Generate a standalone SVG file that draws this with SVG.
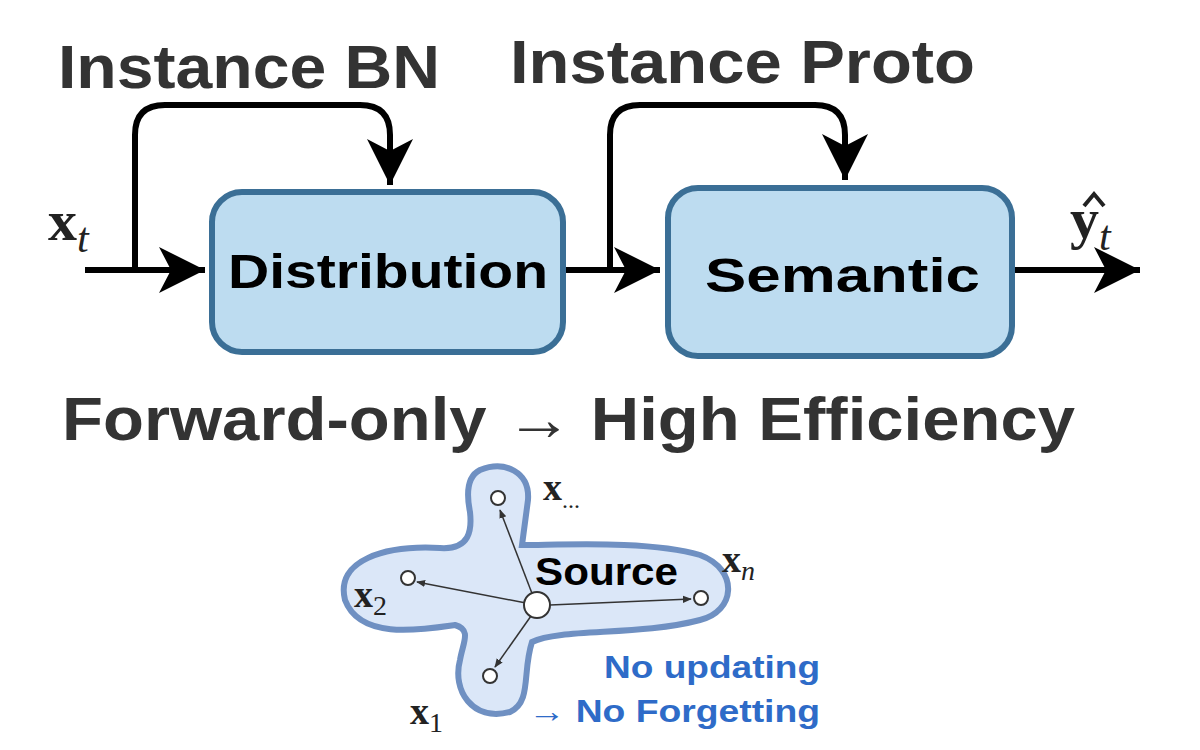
<svg xmlns="http://www.w3.org/2000/svg" width="1200" height="750" viewBox="0 0 1200 750">
<style>
.box{fill:#bddcf0;stroke:#3b6f96;stroke-width:6}
.lbl{font-family:"Liberation Sans",Arial,sans-serif;font-weight:bold;fill:#000}
.big{font-family:"Liberation Sans",Arial,sans-serif;fill:#333;font-size:62px;font-weight:bold}
.ln{fill:none;stroke:#000;stroke-width:6}
.m{font-family:"Liberation Serif","DejaVu Serif",serif;fill:#222}
.bl{font-family:"Liberation Sans",Arial,sans-serif;font-weight:bold;fill:#2e6bc8;font-size:32px}
.th{fill:none;stroke:#333;stroke-width:1.5}
</style>
<defs>
<marker id="ah" markerWidth="10" markerHeight="10" refX="8" refY="5" orient="auto" markerUnits="userSpaceOnUse" viewBox="0 0 10 10" overflow="visible">
<path d="M-38,-18 L8,5 L-38,28 L-26,5 Z" fill="#000"/>
</marker>
<marker id="sa" viewBox="0 0 10 10" refX="9" refY="5" markerWidth="9" markerHeight="9" orient="auto" markerUnits="userSpaceOnUse"><path d="M0,1 L10,5 L0,9 Z" fill="#333"/></marker>
</defs>
<text class="big" x="58" y="88" textLength="382" lengthAdjust="spacingAndGlyphs">Instance BN</text>
<text class="big" x="510" y="83" textLength="465" lengthAdjust="spacingAndGlyphs">Instance Proto</text>
<g id="connectors">
<path class="ln" d="M85,270 H205" marker-end="url(#ah)"/>
<path class="ln" d="M135,270 V135 Q135,105 165,105 H360 Q390,105 390,135 V185" marker-end="url(#ah)"/>
<path class="ln" d="M563,270 H660" marker-end="url(#ah)"/>
<path class="ln" d="M610,270 V135 Q610,105 640,105 H815 Q845,105 845,135 V180" marker-end="url(#ah)"/>
<path class="ln" d="M1012,270 H1140" marker-end="url(#ah)"/>
</g>
<g id="distribution"><rect class="box" x="212" y="192" width="351" height="160" rx="30"/><text class="lbl" x="228" y="288" font-size="48" textLength="320" lengthAdjust="spacingAndGlyphs">Distribution</text></g>
<g id="semantic"><rect class="box" x="668" y="188" width="344" height="168" rx="30"/><text class="lbl" x="705" y="292" font-size="48" textLength="275" lengthAdjust="spacingAndGlyphs">Semantic</text></g>
<text class="m" x="48" y="240" font-size="58" font-weight="bold">x<tspan font-size="42" font-style="italic" font-weight="normal" dy="12">t</tspan></text>
<text class="m" x="1070" y="238" font-size="58" font-weight="bold">y<tspan font-size="42" font-style="italic" font-weight="normal" dy="12">t</tspan></text>
<path d="M1084,206 L1094,194 L1104,206" fill="none" stroke="#222" stroke-width="4"/>
<text class="big" x="62" y="440" textLength="1013" lengthAdjust="spacingAndGlyphs">Forward-only → High Efficiency</text>
<g id="source">
<path d="M480,470 C505,460 530,472 528,500 L522,545 C560,545 650,540 700,555 C740,570 735,612 700,620 C640,636 560,628 532,642 C522,672 532,702 510,712 C472,722 452,690 460,660 C463,642 472,630 455,625 C420,630 360,640 345,600 C335,560 385,545 440,548 C470,550 472,530 470,512 C466,492 468,476 480,470 Z" fill="#dbe7f8" stroke="#6f90c2" stroke-width="6"/>
<line class="th" x1="533" y1="596" x2="500" y2="510" marker-end="url(#sa)"/>
<line class="th" x1="526" y1="603" x2="417" y2="582" marker-end="url(#sa)"/>
<line class="th" x1="550" y1="605" x2="691" y2="599" marker-end="url(#sa)"/>
<line class="th" x1="531" y1="616" x2="495" y2="667" marker-end="url(#sa)"/>
<circle cx="537" cy="605" r="13" fill="#fff" stroke="#333" stroke-width="2"/>
<circle cx="498" cy="498" r="7" fill="#fff" stroke="#333" stroke-width="2"/>
<circle cx="408" cy="578" r="7" fill="#fff" stroke="#333" stroke-width="2"/>
<circle cx="701" cy="598" r="7" fill="#fff" stroke="#333" stroke-width="2"/>
<circle cx="490" cy="676" r="7" fill="#fff" stroke="#333" stroke-width="2"/>
<text class="lbl" x="535" y="585" font-size="38" fill="#222" textLength="143" lengthAdjust="spacingAndGlyphs">Source</text>
</g>
<text class="m" x="543" y="500" font-size="38" font-weight="bold">x<tspan font-size="24" dy="8" font-weight="normal">...</tspan></text>
<text class="m" x="722" y="572" font-size="38" font-weight="bold">x<tspan font-size="28" font-style="italic" dy="8" font-weight="normal">n</tspan></text>
<text class="m" x="354" y="607" font-size="38" font-weight="bold">x<tspan font-size="28" dy="8" font-weight="normal">2</tspan></text>
<text class="m" x="410" y="724" font-size="38" font-weight="bold">x<tspan font-size="28" dy="8" font-weight="normal">1</tspan></text>
<text class="bl" x="604" y="678" textLength="216" lengthAdjust="spacingAndGlyphs">No updating</text>
<text class="bl" x="528" y="722" textLength="292" lengthAdjust="spacingAndGlyphs">→ No Forgetting</text>
</svg>
